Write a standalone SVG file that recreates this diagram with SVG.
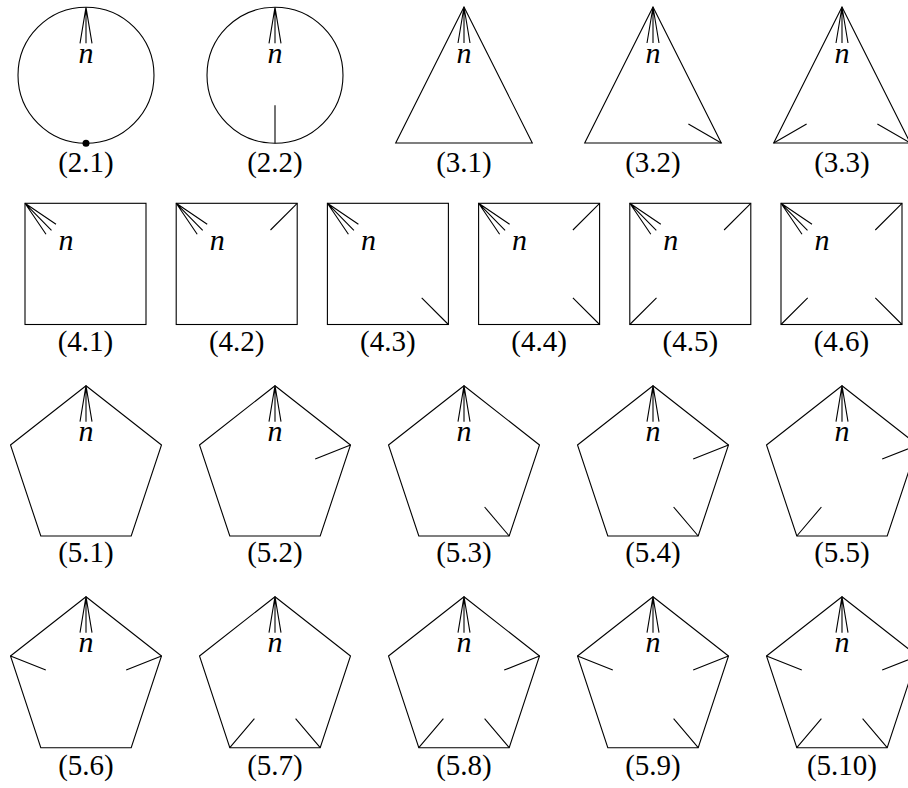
<svg xmlns="http://www.w3.org/2000/svg" xmlns:xlink="http://www.w3.org/1999/xlink" width="908" height="788" viewBox="0 0 908 788">
<style>
.s{fill:none;stroke:#000;stroke-width:1.1;stroke-linejoin:miter}
.n{font-family:"Liberation Serif","Times New Roman",serif;font-style:italic;font-size:30px;text-anchor:middle}
.l{font-family:"Liberation Serif","Times New Roman",serif;font-size:29px;text-anchor:middle}
</style>
<defs>
<path id="fv" class="s" d="M0,0 L-6,36 M0,0 L0,36 M0,0 L6,36"/>
<path id="fd" class="s" d="M0,0 L31,21 M0,0 L26.5,27 M0,0 L21,31"/>
</defs>
<rect width="908" height="788" fill="#fff"/>

<g id="f2-1">
<circle class="s" cx="86" cy="75.3" r="68"/>
<use xlink:href="#fv" x="86" y="7.3"/>
<text class="n" x="86" y="62.5">n</text>
<circle cx="86" cy="143.3" r="3.5" fill="#000"/>
<text class="l" x="86" y="171.5">(2.1)</text>
</g>
<g id="f2-2">
<circle class="s" cx="275" cy="75.3" r="68"/>
<use xlink:href="#fv" x="275" y="7.3"/>
<text class="n" x="275" y="62.5">n</text>
<path class="s" d="M275,105.3 L275,143.3"/>
<text class="l" x="275" y="171.5">(2.2)</text>
</g>
<g id="f3-1">
<polygon class="s" points="464,7 532.3,143 395.7,143"/>
<use xlink:href="#fv" x="464" y="7"/>
<text class="n" x="464" y="62.5">n</text>
<text class="l" x="464" y="171.5">(3.1)</text>
</g>
<g id="f3-2">
<polygon class="s" points="653,7 721.3,143 584.7,143"/>
<use xlink:href="#fv" x="653" y="7"/>
<text class="n" x="653" y="62.5">n</text>
<path class="s" d="M721.3,143 L688.4,124"/>
<text class="l" x="653" y="171.5">(3.2)</text>
</g>
<g id="f3-3">
<polygon class="s" points="842,7 910.3,143 773.7,143"/>
<use xlink:href="#fv" x="842" y="7"/>
<text class="n" x="842" y="62.5">n</text>
<path class="s" d="M773.7,143 L806.6,124 M910.3,143 L877.4,124"/>
<text class="l" x="842" y="171.5">(3.3)</text>
</g>

<g id="f4-1">
<rect class="s" x="25" y="203.3" width="121" height="121.2"/>
<use xlink:href="#fd" x="25" y="203.3"/>
<text class="n" x="66" y="250">n</text>
<text class="l" x="85.5" y="351">(4.1)</text>
</g>
<g id="f4-2">
<rect class="s" x="176.2" y="203.3" width="121" height="121.2"/>
<use xlink:href="#fd" x="176.2" y="203.3"/>
<text class="n" x="217.2" y="250">n</text>
<path class="s" d="M297.2,203.3 L270.5,230"/>
<text class="l" x="236.7" y="351">(4.2)</text>
</g>
<g id="f4-3">
<rect class="s" x="327.4" y="203.3" width="121" height="121.2"/>
<use xlink:href="#fd" x="327.4" y="203.3"/>
<text class="n" x="368.4" y="250">n</text>
<path class="s" d="M448.4,324.5 L421.7,297.8"/>
<text class="l" x="387.9" y="351">(4.3)</text>
</g>
<g id="f4-4">
<rect class="s" x="478.6" y="203.3" width="121" height="121.2"/>
<use xlink:href="#fd" x="478.6" y="203.3"/>
<text class="n" x="519.6" y="250">n</text>
<path class="s" d="M599.6,203.3 L572.9,230 M599.6,324.5 L572.9,297.8"/>
<text class="l" x="539.1" y="351">(4.4)</text>
</g>
<g id="f4-5">
<rect class="s" x="629.8" y="203.3" width="121" height="121.2"/>
<use xlink:href="#fd" x="629.8" y="203.3"/>
<text class="n" x="670.8" y="250">n</text>
<path class="s" d="M750.8,203.3 L724.1,230 M629.8,324.5 L656.5,297.8"/>
<text class="l" x="690.3" y="351">(4.5)</text>
</g>
<g id="f4-6">
<rect class="s" x="781" y="203.3" width="121" height="121.2"/>
<use xlink:href="#fd" x="781" y="203.3"/>
<text class="n" x="822" y="250">n</text>
<path class="s" d="M902,203.3 L875.3,230 M902,324.5 L875.3,297.8 M781,324.5 L807.7,297.8"/>
<text class="l" x="841.5" y="351">(4.6)</text>
</g>

<g id="f5-1">
<polygon class="s" points="86,385.7 161.5,445 131.2,536 40.8,536 10.5,445"/>
<use xlink:href="#fv" x="86" y="385.7"/>
<text class="n" x="86" y="441">n</text>
<text class="l" x="86" y="561.5">(5.1)</text>
</g>
<g id="f5-2">
<polygon class="s" points="275,385.7 350.5,445 320.2,536 229.8,536 199.5,445"/>
<use xlink:href="#fv" x="275" y="385.7"/>
<text class="n" x="275" y="441">n</text>
<path class="s" d="M350.5,445 L315.2,459.1"/>
<text class="l" x="275" y="561.5">(5.2)</text>
</g>
<g id="f5-3">
<polygon class="s" points="464,385.7 539.5,445 509.2,536 418.8,536 388.5,445"/>
<use xlink:href="#fv" x="464" y="385.7"/>
<text class="n" x="464" y="441">n</text>
<path class="s" d="M509.2,536 L484.6,507"/>
<text class="l" x="464" y="561.5">(5.3)</text>
</g>
<g id="f5-4">
<polygon class="s" points="653,385.7 728.5,445 698.2,536 607.8,536 577.5,445"/>
<use xlink:href="#fv" x="653" y="385.7"/>
<text class="n" x="653" y="441">n</text>
<path class="s" d="M728.5,445 L693.2,459.1 M698.2,536 L673.6,507"/>
<text class="l" x="653" y="561.5">(5.4)</text>
</g>
<g id="f5-5">
<polygon class="s" points="842,385.7 917.5,445 887.2,536 796.8,536 766.5,445"/>
<use xlink:href="#fv" x="842" y="385.7"/>
<text class="n" x="842" y="441">n</text>
<path class="s" d="M917.5,445 L882.2,459.1 M796.8,536 L821.4,507"/>
<text class="l" x="842" y="561.5">(5.5)</text>
</g>

<g id="f5-6">
<polygon class="s" points="86,596.7 161.5,656 131.2,747.7 40.8,747.7 10.5,656"/>
<use xlink:href="#fv" x="86" y="596.7"/>
<text class="n" x="86" y="652">n</text>
<path class="s" d="M10.5,656 L45.8,670.1 M161.5,656 L126.2,670.1"/>
<text class="l" x="86" y="774.5">(5.6)</text>
</g>
<g id="f5-7">
<polygon class="s" points="275,596.7 350.5,656 320.2,747.7 229.8,747.7 199.5,656"/>
<use xlink:href="#fv" x="275" y="596.7"/>
<text class="n" x="275" y="652">n</text>
<path class="s" d="M229.8,747.7 L254.4,718.7 M320.2,747.7 L295.6,718.7"/>
<text class="l" x="275" y="774.5">(5.7)</text>
</g>
<g id="f5-8">
<polygon class="s" points="464,596.7 539.5,656 509.2,747.7 418.8,747.7 388.5,656"/>
<use xlink:href="#fv" x="464" y="596.7"/>
<text class="n" x="464" y="652">n</text>
<path class="s" d="M539.5,656 L504.2,670.1 M418.8,747.7 L443.4,718.7 M509.2,747.7 L484.6,718.7"/>
<text class="l" x="464" y="774.5">(5.8)</text>
</g>
<g id="f5-9">
<polygon class="s" points="653,596.7 728.5,656 698.2,747.7 607.8,747.7 577.5,656"/>
<use xlink:href="#fv" x="653" y="596.7"/>
<text class="n" x="653" y="652">n</text>
<path class="s" d="M577.5,656 L612.8,670.1 M728.5,656 L693.2,670.1 M698.2,747.7 L673.6,718.7"/>
<text class="l" x="653" y="774.5">(5.9)</text>
</g>
<g id="f5-10">
<polygon class="s" points="842,596.7 917.5,656 887.2,747.7 796.8,747.7 766.5,656"/>
<use xlink:href="#fv" x="842" y="596.7"/>
<text class="n" x="842" y="652">n</text>
<path class="s" d="M766.5,656 L801.8,670.1 M917.5,656 L882.2,670.1 M796.8,747.7 L821.4,718.7 M887.2,747.7 L862.6,718.7"/>
<text class="l" x="842" y="774.5">(5.10)</text>
</g>
</svg>
